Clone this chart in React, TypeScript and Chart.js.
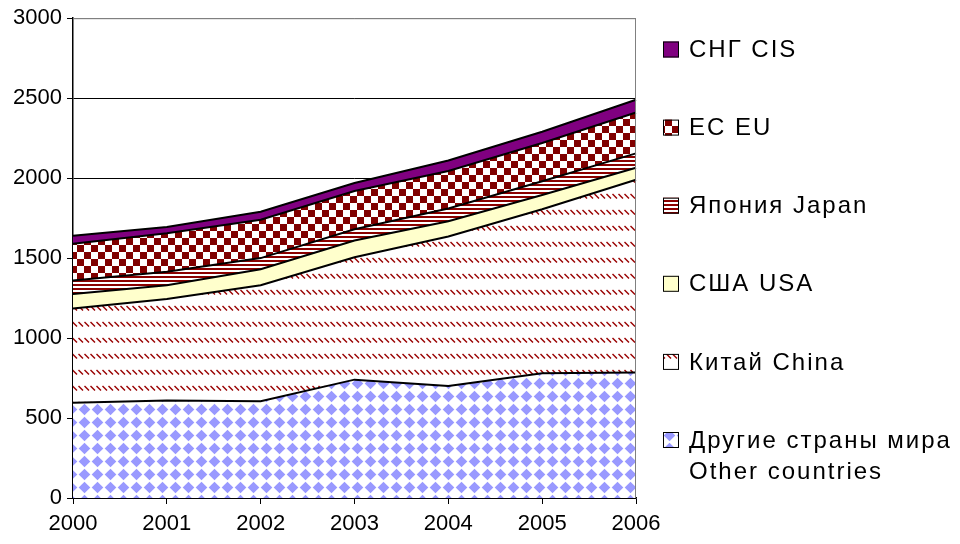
import React, { useEffect, useRef } from 'react';
import { Chart, registerables } from 'chart.js';
Chart.register(...registerables);

const years = ['2000', '2001', '2002', '2003', '2004', '2005', '2006'];
const otherCountries = [595, 610, 605, 740, 700, 780, 785];
const china = [590, 635, 725, 765, 935, 1025, 1205];
const usa = [90, 85, 100, 105, 95, 90, 75];
const japan = [85, 85, 70, 70, 80, 85, 90];
const eu = [230, 240, 240, 240, 235, 240, 255];
const cis = [50, 40, 50, 50, 65, 70, 80];

const labelOther = ['Другие страны мира', 'Other countries'];
const labelChina = ['Китай China'];
const labelUsa = ['США USA'];
const labelJapan = ['Япония Japan'];
const labelEu = ['ЕС EU'];
const labelCis = ['СНГ CIS'];

const FONT = '"Liberation Sans", Arial, sans-serif';

function makePattern(w: number, h: number, draw: (c: CanvasRenderingContext2D) => void) {
  const cv = document.createElement('canvas');
  cv.width = w;
  cv.height = h;
  const c = cv.getContext('2d')!;
  c.fillStyle = '#ffffff';
  c.fillRect(0, 0, w, h);
  draw(c);
  return c.createPattern(cv, 'repeat')!;
}

export default function App() {
  const ref = useRef<HTMLCanvasElement>(null);

  useEffect(() => {
    const canvas = ref.current!;

    const diamonds = makePattern(13, 13, (c) => {
      c.fillStyle = '#9999ff';
      c.beginPath();
      c.moveTo(6.5, 0.7);
      c.lineTo(12.3, 6.5);
      c.lineTo(6.5, 12.3);
      c.lineTo(0.7, 6.5);
      c.closePath();
      c.fill();
    });
    const chinaPat = makePattern(6, 16, (c) => {
      c.strokeStyle = '#990000';
      c.lineWidth = 1.5;
      c.beginPath();
      c.moveTo(0.5, 2);
      c.lineTo(5, 6.5);
      c.stroke();
    });
    const stripes = makePattern(4, 4, (c) => {
      c.fillStyle = '#8b0000';
      c.fillRect(0, 0, 4, 2);
    });
    const checker = makePattern(14, 14, (c) => {
      c.fillStyle = '#800000';
      c.fillRect(0, 0, 7, 7);
      c.fillRect(7, 7, 7, 7);
    });

    const fills: (string | CanvasPattern)[] = [diamonds, chinaPat, '#ffffcc', stripes, checker, '#800080'];
    const labels = [labelOther, labelChina, labelUsa, labelJapan, labelEu, labelCis];
    const values = [otherCountries, china, usa, japan, eu, cis];

    const datasets = values.map((v, i) => ({
      label: labels[i].join(' '),
      data: v,
      backgroundColor: fills[i],
      borderColor: '#000000',
      borderWidth: 2,
      pointRadius: 0,
      tension: 0,
      fill: i === 0 ? 'origin' : '-1',
    }));

    const legendPlugin = {
      id: 'customLegend',
      afterDraw(chart: any) {
        const ctx = chart.ctx as CanvasRenderingContext2D;
        ctx.save();
        ctx.font = '24px ' + FONT;
        (ctx as any).letterSpacing = '2px';
        ctx.textBaseline = 'middle';
        ctx.textAlign = 'left';
        for (let k = 0; k < 6; k++) {
          const idx = 5 - k;
          const cy = 49.5 + k * 78.1;
          ctx.fillStyle = fills[idx] as any;
          ctx.fillRect(663, cy - 8, 16, 16);
          ctx.strokeStyle = '#000';
          ctx.lineWidth = 1;
          ctx.strokeRect(663.5, cy - 7.5, 15, 15);
          ctx.fillStyle = '#000';
          labels[idx].forEach((t, j) => {
            ctx.fillText(t, 689, cy + 1 + j * 31);
          });
        }
        ctx.restore();
      },
    };

    const borderPlugin = {
      id: 'plotBorder',
      afterDatasetsDraw(chart: any) {
        const { ctx, chartArea } = chart;
        ctx.save();
        ctx.strokeStyle = '#808080';
        ctx.lineWidth = 1;
        ctx.beginPath();
        ctx.moveTo(chartArea.left, chartArea.top + 0.5);
        ctx.lineTo(chartArea.right - 0.5, chartArea.top + 0.5);
        ctx.lineTo(chartArea.right - 0.5, chartArea.bottom);
        ctx.stroke();
        ctx.restore();
      },
    };

    const chart = new Chart(canvas, {
      type: 'line',
      data: { labels: years, datasets: datasets as any },
      options: {
        responsive: false,
        animation: false,
        layout: { padding: { top: 18, right: 324, left: 0, bottom: 0 } },
        plugins: { legend: { display: false }, tooltip: { enabled: false } },
        elements: { line: { tension: 0 } },
        scales: {
          x: {
            offset: false,
            afterFit: (s: any) => {
              s.height = 46;
            },
            grid: {
              display: true,
              drawOnChartArea: false,
              drawTicks: true,
              tickLength: 6,
              tickColor: '#000',
            },
            border: { display: true, color: '#000', width: 1.5 },
            ticks: {
              color: '#000',
              font: { family: FONT, size: 22 },
              padding: 7,
              maxRotation: 0,
              autoSkip: false,
            },
          },
          y: {
            stacked: true,
            min: 0,
            max: 3000,
            afterFit: (s: any) => {
              s.width = 73;
            },
            grid: {
              color: (c: any) => (c.tick && c.tick.value === 3000 ? '#808080' : '#000000'),
              tickColor: '#000',
              tickLength: 6,
              lineWidth: 1,
            },
            border: { display: true, color: '#000', width: 1.5 },
            ticks: {
              stepSize: 500,
              color: '#000',
              font: { family: FONT, size: 22 },
              padding: 5,
              callback: (v: any) => String(v),
            },
          },
        },
      },
      plugins: [legendPlugin, borderPlugin],
    });

    return () => chart.destroy();
  }, []);

  return (
    <div style={{ position: 'fixed', left: 0, top: 0, width: 960, height: 544, background: '#fff' }}>
      <canvas ref={ref} width={960} height={544} />
    </div>
  );
}
